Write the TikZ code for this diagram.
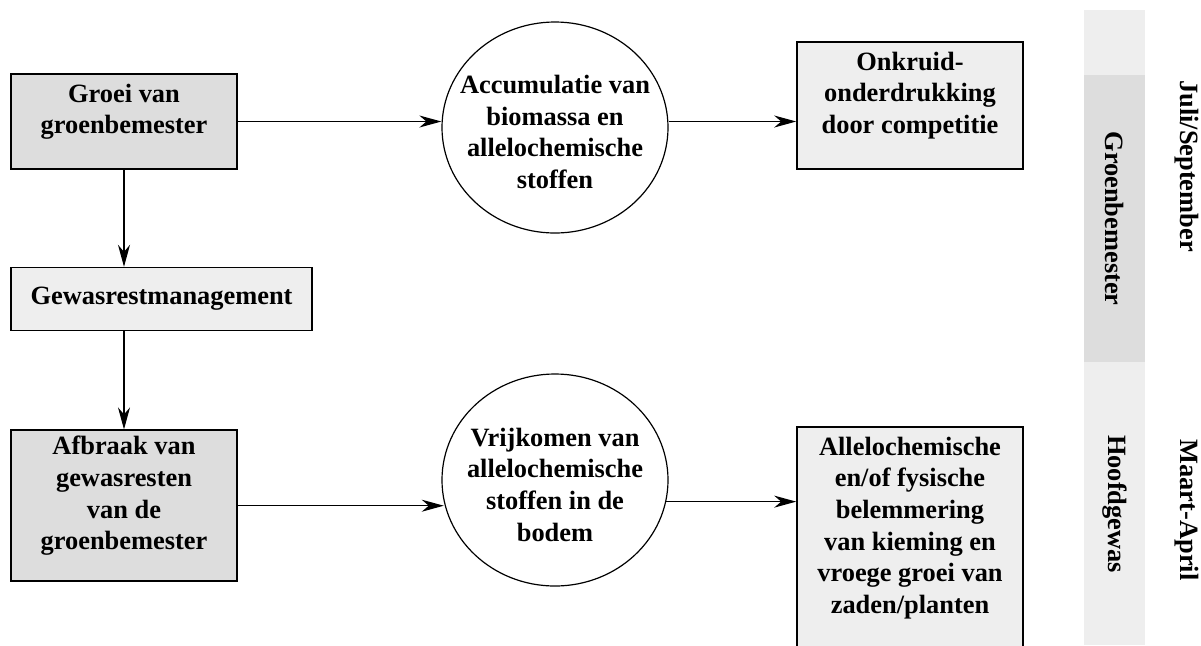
\documentclass[tikz,border=0pt]{standalone}
\usepackage{fontspec}
\setmainfont{Liberation Serif}
\usetikzlibrary{shapes.geometric, arrows.meta, positioning}

\definecolor{donker}{HTML}{DDDDDD}
\definecolor{licht}{HTML}{EEEEEE}

% extra room under (or above) the lines of text
\newcommand{\extrabottom}{\\[-3pt]\mbox{}}
\newcommand{\extratop}{\mbox{}\\[-2pt]}

\begin{document}
\begin{tikzpicture}[
	  x=0.5pt, y=-0.5pt,
	  every node/.style={font=\bfseries\fontsize{13.2}{15.8}\selectfont},
	  darkbox/.style={rectangle, minimum width=113pt, inner sep=0pt, align=center, draw=black, line width=0.8pt, fill=donker},
	  lightbox/.style={darkbox, fill=licht},
	  effect/.style={ellipse, minimum width=113pt, minimum height=105.5pt, inner sep=-30pt, align=center, draw=black, line width=0.6pt, fill=white},
	  sidelabel/.style={rotate=-90, inner sep=0pt},
	  arrow/.style={line width=0.6pt, -{Stealth[length=11pt, width=6pt, inset=3.5pt]}}
	]
	\useasboundingbox (0,0) rectangle (1201,645);

	% phase bars on the right
	\fill[licht] (1084,10) rectangle (1145,75);
	\fill[donker] (1084,75) rectangle (1145,362);
	\fill[licht] (1084,362) rectangle (1145,645);

	\node (groei) [darkbox, minimum height=47.5pt] at (124,121.5) {Groei van\\groenbemester\extrabottom};
	\node (gewas) [lightbox, minimum width=150.5pt, minimum height=31.5pt, below=48.5pt of groei.south west, anchor=north west] {Gewasrestmanagement};
	\node (afbraak) [darkbox, minimum height=75.5pt, below=49pt of gewas.south west, anchor=north west] {Afbraak van\\gewasresten\\van de\\groenbemester\extrabottom};

	\node (accum) [effect] at (555,127.5) {\extratop Accumulatie van\\biomassa en\\allelochemische\\stoffen};
	\node (vrij) [effect, minimum height=106pt] at (555,480) {\extratop Vrijkomen van\\allelochemische\\stoffen in de\\bodem};

	\node (onkruid) [lightbox, minimum height=63.5pt] at (910,105.5) {Onkruid-\\onderdrukking\\door competitie\extrabottom};
	\node (allelo) [lightbox, minimum height=111pt] at (910,538) {Allelochemische\\en/of fysische\\belemmering\\van kieming en\\vroege groei van\\zaden/planten\extrabottom};

	\node (groenfase) [sidelabel] at (1114.5,218.5) {Groenbemester};
	\node (hoofdfase) [sidelabel] at (1114.5,504) {Hoofdgewas};
	\node (juli) [sidelabel] at (1187,166) {Juli/September};
	\node (maart) [sidelabel] at (1187,510) {Maart-April};

	\draw [arrow] (groei.east) -- (groei.east -| accum.west);
	\draw [arrow] (accum.east |- groei.east) -- (onkruid.west |- groei.east);
	\draw [arrow] (groei.south) -- (groei.south |- gewas.north);
	\draw [arrow] (groei.south |- gewas.south) -- (afbraak.north);
	\draw [arrow] (afbraak.east) -- (afbraak.east -| vrij.191.8);
	\draw [arrow] (vrij.-11.8) -- (vrij.-11.8 -| allelo.west);

	\end{tikzpicture}
\end{document}
